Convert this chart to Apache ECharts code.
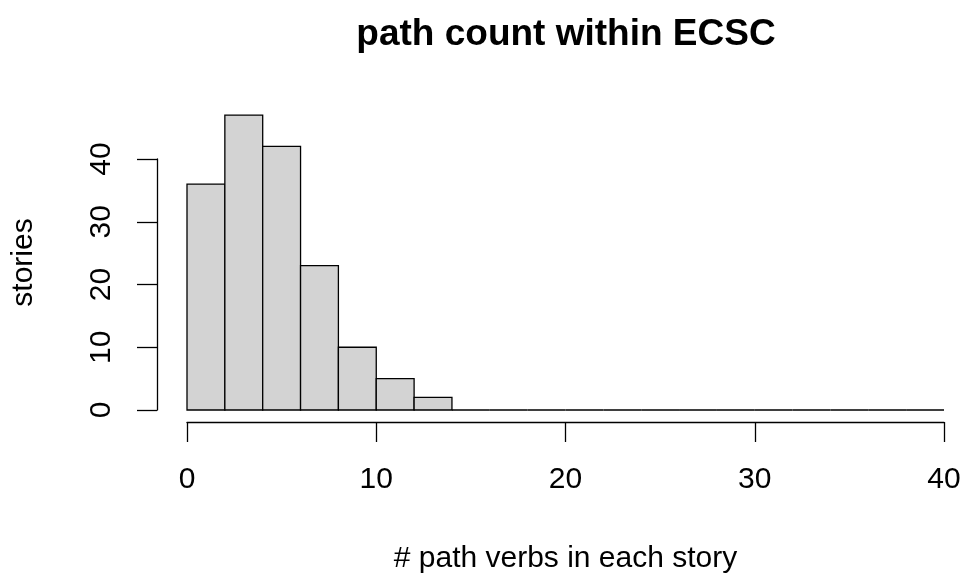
<!DOCTYPE html>
<html>
<head>
<meta charset="utf-8">
<script src="https://cdn.jsdelivr.net/npm/echarts@6/dist/echarts.min.js"></script>
<style>
  html, body { margin: 0; padding: 0; background: #fff; }
  #chart { width: 966px; height: 575px; }
</style>
</head>
<body>
<div id="chart"></div>
<script>
// Histogram bins: left/right edges and counts per bin
const binEdges = [0, 2, 4, 6, 8, 10, 12, 14, 16, 18, 20, 22, 24, 26, 28, 30, 32, 34, 36, 38, 40];
const binCounts = [36, 47, 42, 23, 10, 5, 2, 0, 0, 0, 0, 0, 0, 0, 0, 0, 0, 0, 0, 0];
const xTicks = [0, 10, 20, 30, 40];
const yTicks = [0, 10, 20, 30, 40];

const titleText = 'path count within ECSC';
const xTitle = '# path verbs in each story';
const yTitle = 'stories';

const FONT = '"Liberation Sans", Arial, Helvetica, sans-serif';

const bins = binCounts.map((c, i) => [binEdges[i], binEdges[i + 1], c]);

const chart = echarts.init(document.getElementById('chart'), null, { renderer: 'canvas' });

chart.setOption({
  animation: false,
  backgroundColor: '#ffffff',
  title: {
    text: titleText,
    left: 561,
    top: 11,
    textAlign: 'center',
    textStyle: { fontFamily: FONT, fontSize: 37, fontWeight: 'bold', color: '#000' }
  },
  grid: {
    left: 187, right: 22, top: 159, bottom: 165,
    containLabel: false,
    outerBoundsMode: 'none'
  },
  xAxis: {
    type: 'value',
    min: xTicks[0],
    max: xTicks[xTicks.length - 1],
    interval: 10,
    offset: 12,
    splitLine: { show: false },
    axisLine: { show: true, onZero: false, lineStyle: { color: '#000', width: 1.3 } },
    axisTick: { show: true, length: 20, lineStyle: { color: '#000', width: 1.3 } },
    axisLabel: { margin: 43, fontFamily: FONT, fontSize: 30, color: '#000' },
    name: xTitle,
    nameLocation: 'middle',
    nameGap: 122,
    nameTextStyle: { fontFamily: FONT, fontSize: 30, color: '#000' }
  },
  yAxis: {
    type: 'value',
    min: yTicks[0],
    max: yTicks[yTicks.length - 1],
    interval: 10,
    offset: 30,
    splitLine: { show: false },
    axisLine: { show: true, onZero: false, lineStyle: { color: '#000', width: 1.3 } },
    axisTick: { show: true, length: 20, lineStyle: { color: '#000', width: 1.3 } },
    axisLabel: { rotate: 90, margin: 40, fontFamily: FONT, fontSize: 30, color: '#000' }
  },
  graphic: [{
    type: 'text',
    x: 24,
    y: 262.5,
    rotation: Math.PI / 2,
    style: {
      text: yTitle,
      fontFamily: FONT,
      fontSize: 30,
      fill: '#000',
      align: 'center',
      verticalAlign: 'middle'
    }
  }],
  series: [{
    type: 'custom',
    clip: false,
    data: bins,
    encode: { x: [0, 1], y: 2 },
    renderItem: function (params, api) {
      const p0 = api.coord([api.value(0), 0]);
      const p1 = api.coord([api.value(1), api.value(2)]);
      return {
        type: 'rect',
        shape: { x: p0[0], y: p1[1], width: p1[0] - p0[0], height: p0[1] - p1[1] },
        style: { fill: '#d3d3d3', stroke: '#000', lineWidth: 1.3 }
      };
    }
  }]
});
</script>
</body>
</html>
